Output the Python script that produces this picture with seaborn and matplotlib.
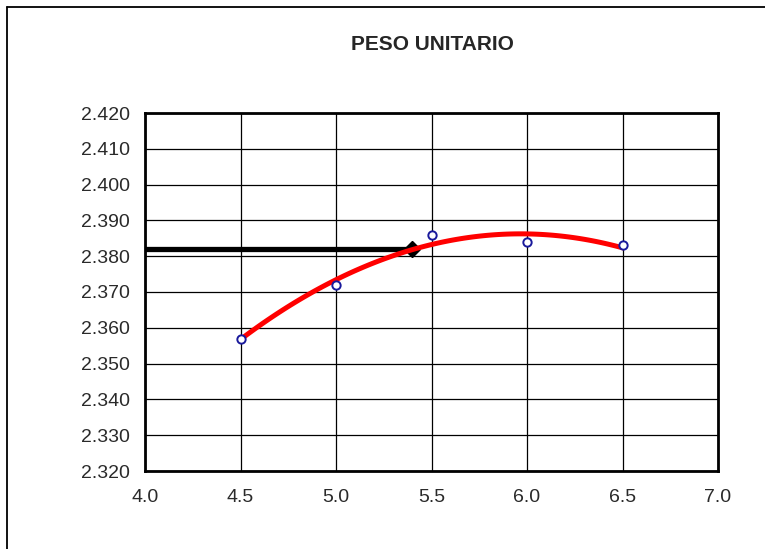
import numpy as np
import pandas as pd
import matplotlib
matplotlib.use("Agg")
import matplotlib.pyplot as plt
import seaborn as sns
from matplotlib.lines import Line2D

# datos del ensayo
humedad = [4.5, 5.0, 5.5, 6.0, 6.5]
peso_unitario = [2.357, 2.372, 2.386, 2.384, 2.383]

# humedad optima / peso unitario maximo (linea negra)
opt_x = [4.0, 5.4]
opt_y = [2.382, 2.382]

xticks = [4.0, 4.5, 5.0, 5.5, 6.0, 6.5, 7.0]
yticks = [2.320, 2.330, 2.340, 2.350, 2.360, 2.370, 2.380, 2.390, 2.400, 2.410, 2.420]

df = pd.DataFrame({"humedad": humedad, "peso": peso_unitario})

sns.set_style("white")
plt.rcParams["font.family"] = ["Liberation Sans", "DejaVu Sans"]

fig = plt.figure(figsize=(7.65, 5.49), dpi=100)
ax = fig.add_axes([145 / 765, 1 - 471 / 549, 573 / 765, 358 / 549])

# linea negra hacia el eje y con rombo al final
ax.plot(opt_x, opt_y, color="black", lw=3.8, zorder=3, solid_capstyle="butt")
ax.plot(opt_x[1], opt_y[1], marker="D", color="black", ms=8.5, zorder=3)

# curva de ajuste de segundo grado
sns.regplot(data=df, x="humedad", y="peso", order=2, ci=None, scatter=False,
            line_kws=dict(color="red", lw=3.6, zorder=4), ax=ax)

# puntos medidos
sns.scatterplot(data=df, x="humedad", y="peso", marker="o", s=36,
                facecolor="white", edgecolor="#1a1a9c", linewidth=1.4,
                zorder=5, ax=ax)

ax.set_xlim(4.0, 7.0)
ax.set_ylim(2.320, 2.420)
ax.set_xticks(xticks)
ax.set_yticks(yticks)
ax.set_xticklabels([f"{v:.1f}" for v in xticks])
ax.set_yticklabels([f"{v:.3f}" for v in yticks])
ax.set_xlabel("")
ax.set_ylabel("")
ax.grid(True, color="black", lw=0.9)
ax.set_axisbelow(True)
for s in ax.spines.values():
    s.set_color("black")
    s.set_linewidth(2)
ax.tick_params(axis="both", direction="out", length=6, width=1, color="black",
               labelsize=14, labelcolor="#2a2a2a", pad=5)
ax.tick_params(axis="x", pad=7)

fig.text(432 / 765, 1 - 45 / 549, "PESO UNITARIO", ha="center", va="center",
         fontsize=15, fontweight="bold")

# marco exterior del grafico
fig.add_artist(Line2D([7 / 765, 7 / 765], [0, 1 - 7 / 549], color="black", lw=1.3,
                      transform=fig.transFigure))
fig.add_artist(Line2D([7 / 765, 1], [1 - 7 / 549, 1 - 7 / 549], color="black", lw=1.3,
                      transform=fig.transFigure))

fig.savefig("out.png", dpi=100)
